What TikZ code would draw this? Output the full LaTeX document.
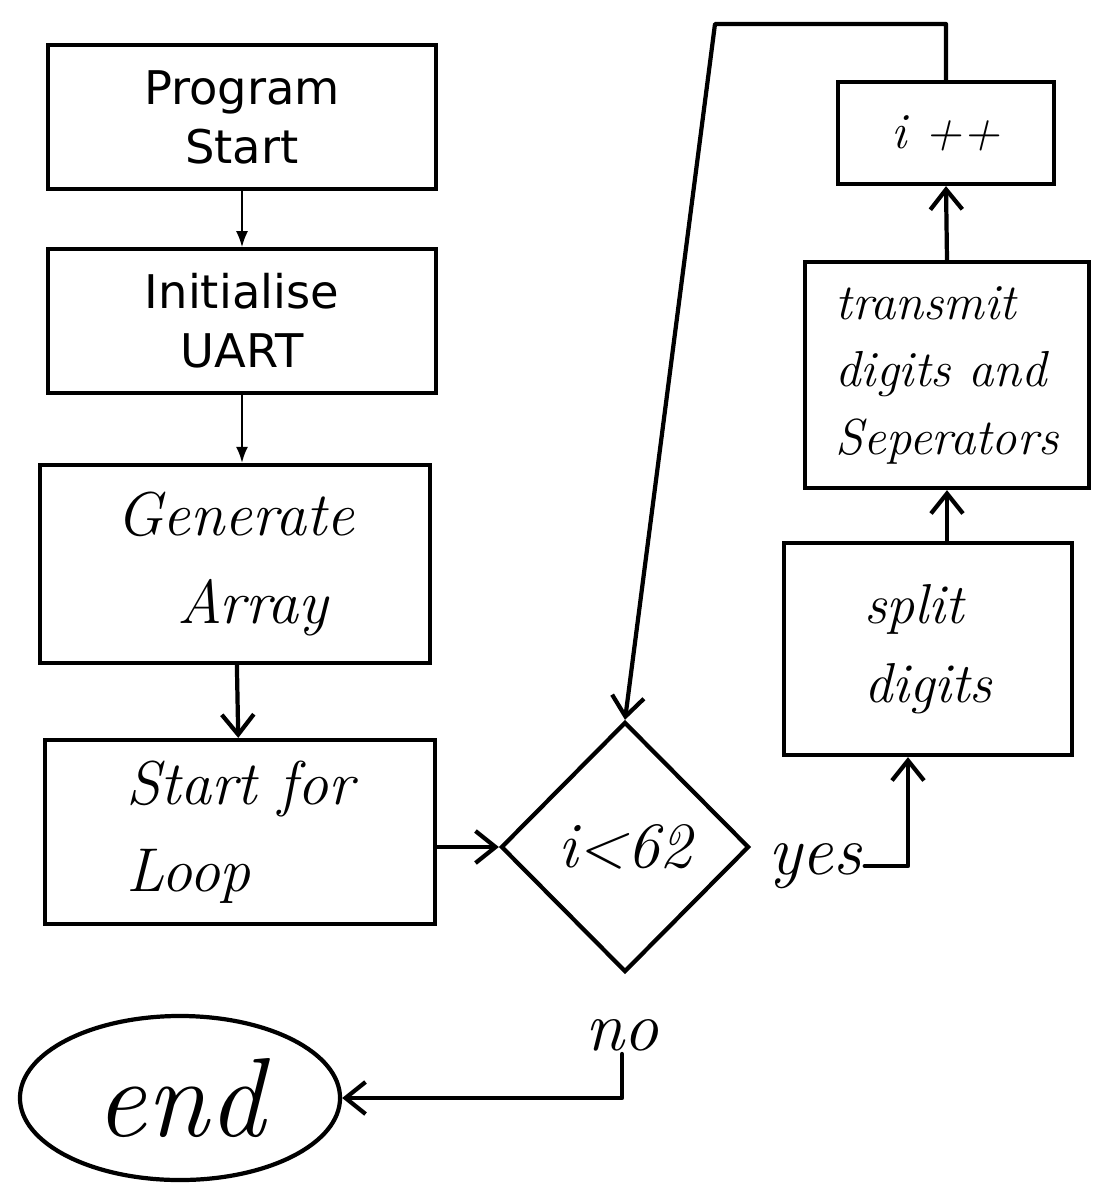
\documentclass[tikz,border=0pt]{standalone}
\usepackage{fontspec}
\usepackage{tikz}
\usetikzlibrary{arrows.meta,positioning,shapes.geometric}
\newfontfamily\typedfont{DejaVu Sans}
\tikzset{
  typedbox/.style={rectangle,draw=black,line width=2.5pt,minimum width=9.7cm,minimum height=3.6cm,align=center,font=\typedfont\fontsize{33}{42}\selectfont},
  handbox/.style={rectangle,draw=black,line width=3pt,align=left,font=\itshape\fontsize{44}{62}\selectfont},
  handdecision/.style={diamond,draw=black,line width=3pt,minimum width=6.2cm,minimum height=6.25cm,inner sep=0pt,font=\itshape\fontsize{46}{50}\selectfont},
  handend/.style={ellipse,draw=black,line width=3pt,minimum width=8cm,minimum height=4.1cm,font=\itshape\fontsize{80}{90}\selectfont},
  handlabel/.style={font=\itshape\fontsize{50}{55}\selectfont,inner sep=2pt},
  typedarrow/.style={-{Latex[length=4mm,width=3mm]},line width=1.5pt},
  handarrow/.style={-{Straight Barb[length=5mm,width=8mm]},line width=3pt,line join=round,line cap=round}
}
\begin{document}
\begin{tikzpicture}[x=0.025cm,y=-0.025cm]
  \useasboundingbox (0,0) rectangle (1112,1198);
  % left column
  \node[typedbox] (start) at (242,117) {Program\\Start};
  \node[typedbox] (uart) at (242,321) {Initialise\\UART};
  \node[handbox,minimum width=9.75cm,minimum height=4.95cm] (gen) at (235,564) {Generate\\\quad Array};
  \node[handbox,minimum width=9.75cm,minimum height=4.6cm] (loop) at (240,832) {Start for\\Loop};
  \node[handend] (endn) at (180,1098) {end};
  % decision and loop body
  \node[handdecision] (dec) at (625,847) {i<62};
  \node[handbox,minimum width=7.2cm,minimum height=5.3cm,font=\itshape\fontsize{40}{56}\selectfont] (split) at (928,649) {split\\digits};
  \node[handbox,minimum width=7.1cm,minimum height=5.65cm,font=\itshape\fontsize{36}{48}\selectfont] (trans) at (947,375) {transmit\\digits and\\Seperators};
  \node[handbox,minimum width=5.4cm,minimum height=2.55cm,align=center,font=\itshape\fontsize{36}{40}\selectfont] (ipp) at (946,133) {i ++};
  \node[handlabel] (yes) at (815,866) {yes};
  \node[handlabel] (no) at (622,1035) {no};
  \coordinate (back) at (715,24);
  % connectors
  \draw[typedarrow] (start) -- (uart);
  \draw[typedarrow] (uart.south) -- (uart.south |- gen.north);
  \draw[handarrow] (gen) -- (loop);
  \draw[handarrow] (loop.east |- dec.west) -- (dec.west);
  \draw[handarrow] (yes.east) -| ([xshift=-0.5cm]split.south);
  \draw[handarrow] (trans.south |- split.north) -- (trans.south);
  \draw[handarrow] (trans.north) -- (ipp.south);
  \draw[handarrow] (ipp.north) |- (back) -- (dec.north);
  \draw[handarrow] (no.south) |- (endn.east);
\end{tikzpicture}
\end{document}
